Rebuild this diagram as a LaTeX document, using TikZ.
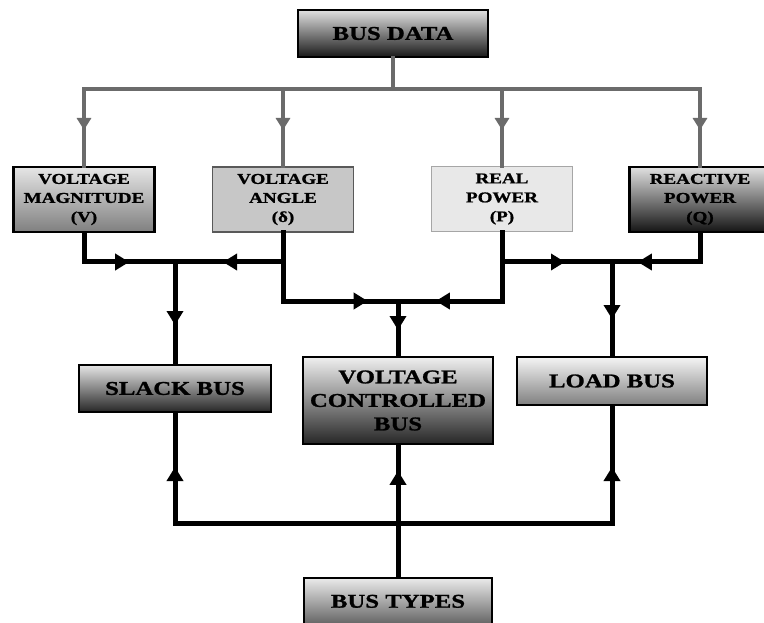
\documentclass[tikz,border=0pt]{standalone}
\usepackage{fontspec}
\setmainfont{Liberation Serif}
\newfontfamily\boxfont[FakeStretch=1.27,FakeBold=1.2]{Liberation Serif}
\usetikzlibrary{arrows.meta,decorations.markings}

\tikzset{
  box/.style={draw=black, line width=2.4pt, align=center, inner sep=0pt,
    font=\boxfont\bfseries, text=black},
  bigbox/.style={box, minimum width=190pt, font=\boxfont\bfseries\fontsize{19.5}{23.5}\selectfont},
  smallbox/.style={box, minimum width=141pt, minimum height=65pt,
    font=\boxfont\bfseries\fontsize{15}{19}\selectfont},
  feed/.style={draw=black!58, line width=3.6pt, line cap=rect},
  wire/.style={draw=black, line width=5pt, line cap=rect, line join=miter},
  feedarrow/.style={postaction={decorate, decoration={markings,
    mark=at position #1 with {\arrow[black!58]{Triangle[length=12pt,width=14pt]}}}}},
  wirearrow/.style={postaction={decorate, decoration={markings,
    mark=at position #1 with {\arrow[black]{Triangle[length=14pt,width=16pt]}}}}},
}

\begin{document}
\begin{tikzpicture}[x=1pt,y=-1pt]
\useasboundingbox (0,0) rectangle (764,623);
\clip (0,0) rectangle (764,623);

% source and sink blocks
\node[bigbox, minimum height=47pt, top color=black!12, middle color=black!45, bottom color=black!90]
  (busdata) at (393,33.5) {BUS DATA};
\node[bigbox, minimum width=188pt, minimum height=50pt, top color=black!8, middle color=black!25, bottom color=black!65]
  (bustypes) at (398,603) {BUS TYPES\strut};

% measured quantities
\node[smallbox, top color=black!10, bottom color=black!50] (vm) at (84,199.5)
  {VOLTAGE\\MAGNITUDE\\(V)};
\node[smallbox, draw=black!65, line width=1.4pt, fill=black!22] (va) at (283,199.5)
  {VOLTAGE\\ANGLE\\(δ)};
\node[smallbox, draw=black!35, line width=1.4pt, fill=black!9] (rp) at (502,199)
  {REAL\\POWER\\(P)};
\node[smallbox, top color=black!12, middle color=black!40, bottom color=black!92] (rq) at (700,199.5)
  {REACTIVE\\POWER\\(Q)};

% bus types
\node[bigbox, minimum width=192pt, minimum height=47pt, top color=black!10, middle color=black!30, bottom color=black!85]
  (slack) at (175,388.5) {SLACK BUS};
\node[bigbox, minimum height=87pt, top color=black!6, middle color=black!35, bottom color=black!85]
  (vc) at (398,400.5) {VOLTAGE\\CONTROLLED\\BUS};
\node[bigbox, minimum height=48pt, top color=black!4, middle color=black!15, bottom color=black!50]
  (load) at (612,381) {LOAD BUS};

% junction points
\coordinate (t)  at (393,89);
\coordinate (j1) at (175,262);
\coordinate (i1) at (283,262);
\coordinate (k1) at (283,301);
\coordinate (j2) at (398,301);
\coordinate (i3) at (502,262);
\coordinate (j3) at (612,262);
\coordinate (bl) at (175,523);
\coordinate (br) at (612,523);

% distribution from bus data
\draw[feed] (busdata.south) -- (t);
\draw[feed] (vm.north |- t) -- (rq.north |- t);
\draw[feed, feedarrow=41pt] (vm.north |- t) -- (vm.north);
\draw[feed, feedarrow=41pt] (va.north |- t) -- (va.north);
\draw[feed, feedarrow=41pt] (rp.north |- t) -- (rp.north);
\draw[feed, feedarrow=41pt] (rq.north |- t) -- (rq.north);

% quantities to bus types
\draw[wire, wirearrow=74pt] (vm.south) |- (j1);
\draw[wire, wirearrow=60pt] (i1) -- (j1);
\draw[wire, wirearrow=153pt] (va.south) -- (k1) -- (j2);
\draw[wire, wirearrow=135pt] (rp.south) |- (j2);
\draw[wire, wirearrow=63pt] (i3) -- (j3);
\draw[wire, wirearrow=91pt] (rq.south) |- (j3);
\draw[wire, wirearrow=63pt] (j1) -- (slack.north);
\draw[wire, wirearrow=29pt] (j2) -- (vc.north);
\draw[wire, wirearrow=57pt] (j3) -- (load.north);

% bus types feeding back
\draw[wire] (bl) -- (br);
\draw[wire, wirearrow=106pt] (bustypes.north) -- (vc.south);
\draw[wire, wirearrow=56pt] (bl) -- (slack.south);
\draw[wire, wirearrow=56pt] (br) -- (load.south);
\end{tikzpicture}
\end{document}
